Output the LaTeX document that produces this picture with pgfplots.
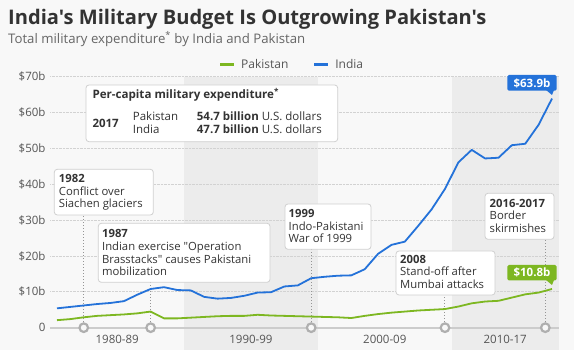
\documentclass[border=0pt]{standalone}
\usepackage{fontspec}
\setmainfont{Open Sans}[Ligatures=TeXOff]
\usepackage{pgfplots}
\usepackage{pgfplotstable}
\pgfplotsset{compat=1.18}
\definecolor{bg}{RGB}{248,248,248}
\definecolor{band}{RGB}{236,236,236}
\definecolor{ind}{RGB}{36,114,217}
\definecolor{pak}{RGB}{125,183,33}
\definecolor{txt}{RGB}{51,51,51}
\definecolor{sub}{RGB}{102,102,102}
\definecolor{tickc}{RGB}{85,85,85}
\definecolor{gridc}{RGB}{210,210,210}
\definecolor{ring}{RGB}{175,175,175}
\definecolor{zeroc}{RGB}{204,204,204}
\definecolor{boxb}{RGB}{208,208,208}

\pgfplotstableread{
year india pak
1980 5.4 2.1
1981 5.8 2.4
1982 6.2 2.9
1983 6.6 3.3
1984 6.9 3.5
1985 7.4 3.7
1986 9.2 4.0
1987 10.8 4.5
1988 11.3 2.6
1989 10.5 2.6
1990 10.4 2.8
1991 8.6 3.0
1992 8.1 3.2
1993 8.3 3.3
1994 8.9 3.3
1995 9.8 3.6
1996 9.9 3.4
1997 11.5 3.3
1998 11.8 3.2
1999 13.8 3.1
2000 14.2 3.0
2001 14.5 2.9
2002 14.6 2.7
2003 16.3 3.3
2004 20.6 3.8
2005 23.1 4.2
2006 24.0 4.5
2007 28.4 4.8
2008 33.0 5.0
2009 38.7 5.2
2010 46.1 5.9
2011 49.6 6.8
2012 47.2 7.3
2013 47.4 7.5
2014 50.9 8.4
2015 51.3 9.3
2016 56.6 9.8
2017 63.9 10.8
}\milex

\newcommand{\tl}[3]{\node[anchor=base west,inner sep=0pt,font=\fontsize{11.3}{13}\selectfont,text=txt] at (#1,-#2) {#3};}

\begin{document}
\begin{tikzpicture}[x=1pt,y=1pt]
\path[use as bounding box] (0,0) rectangle (574,-350);
\fill[bg] (0,0) rectangle (574,-350);
% decade bands
\fill[band] (184.1,-76.7) rectangle (317.9,-350);
\fill[band] (451.7,-76.7) rectangle (558.7,-350);
% title
\node[anchor=base west,inner sep=0pt,font=\fontsize{20.1}{23}\selectfont\bfseries,text=txt] at (8,-25) {India's Military Budget Is Outgrowing Pakistan's};
\node[anchor=base west,inner sep=0pt,font=\fontsize{13.2}{15}\selectfont,text=sub] at (8,-43.3) {Total military expenditure\textsuperscript{*} by India and Pakistan};

\begin{axis}[
  at={(50.3pt,-327.7pt)}, anchor=south west,
  scale only axis, width=508.4pt, height=251pt,
  xmin=1979.5, xmax=2017.5, ymin=0, ymax=70,
  clip=false,
  axis line style={draw=none}, tick style={draw=none}, major tick length=0pt,
  ytick={0,10,...,70},
  yticklabels={0,\$10b,\$20b,\$30b,\$40b,\$50b,\$60b,\$70b},
  xtick={1984.5,1994.5,2004.5,2013.5},
  xticklabels={1980-89,1990-99,2000-09,2010-17},
  yticklabel style={anchor=east, inner sep=0pt, xshift=-4.6pt, font=\fontsize{11.5}{13}\selectfont, text=tickc},
  xticklabel style={anchor=base, inner sep=0pt, yshift=-15.9pt, font=\fontsize{11.5}{13}\selectfont, text=tickc},
  ymajorgrids, grid style={gridc, densely dotted, line width=0.8pt},
  legend style={at={(rel axis cs:0.3305,1.049)}, anchor=west, draw=none, fill=none,
    inner sep=0pt, outer sep=0pt, font=\fontsize{12}{14}\selectfont, text=tickc,
    nodes={inner sep=0pt},
    /tikz/every odd column/.append style={column sep=5.4pt},
    /tikz/every even column/.append style={column sep=24pt}},
  legend columns=2,
  legend cell align=left,
  legend image code/.code={\draw[line width=3.5pt] (0pt,0pt) -- (14pt,0pt);},
]
\draw[zeroc, line width=2pt] (axis cs:1979.5,0) -- (axis cs:2017.5,0);
\draw[ring!85!black, dotted, line width=1pt] (axis cs:1982,0) -- (axis cs:1982,31.4);
\draw[ring!85!black, dotted, line width=1pt] (axis cs:1987,0) -- (axis cs:1987,12.7);
\draw[ring!85!black, dotted, line width=1pt] (axis cs:1999,0) -- (axis cs:1999,21.9);
\draw[ring!85!black, dotted, line width=1pt] (axis cs:2009,0) -- (axis cs:2009,9.1);
\draw[ring!85!black, dotted, line width=1pt] (axis cs:2016.5,0) -- (axis cs:2016.5,24.7);
\addplot[pak, line width=1.8pt, line join=round] table[x=year, y=pak] {\milex};
\addlegendentry{Pakistan}
\addplot[ind, line width=1.8pt, line join=round] table[x=year, y=india] {\milex};
\addlegendentry{India}
\addplot[only marks, mark=*, mark size=4.3pt, mark options={draw=ring, fill=bg, line width=2.2pt}, forget plot]
  coordinates {(1982,0) (1987,0) (1999,0) (2009,0) (2016.5,0)};
\end{axis}

% value tags
\fill[ind, rounded corners=1.5pt] (507.3,-75) rectangle (556.7,-90.7);
\fill[ind] (546,-90) -- (554,-90) -- (552,-95) -- cycle;
\node[font=\fontsize{11.5}{13}\selectfont\bfseries, text=white, inner sep=0pt] at (532,-83) {\$63.9b};
\fill[pak, rounded corners=1.5pt] (507.3,-265) rectangle (556.7,-280.5);
\fill[pak] (546,-280) -- (554,-280) -- (552,-285) -- cycle;
\node[font=\fontsize{11.5}{13}\selectfont\bfseries, text=white, inner sep=0pt] at (532,-272.7) {\$10.8b};

% per-capita box
\draw[boxb, fill=white, rounded corners=3pt, line width=0.8pt] (86,-85) rectangle (337.7,-141.7);
\node[anchor=base west,inner sep=0pt,font=\fontsize{11.6}{13}\selectfont\bfseries,text=txt] at (92.3,-99) {Per-capita military expenditure\textsuperscript{*}};
\node[anchor=base west,inner sep=0pt,font=\fontsize{11.5}{13}\selectfont\bfseries,text=txt] at (92.3,-127.3) {2017};
\node[anchor=base west,inner sep=0pt,font=\fontsize{11.5}{13}\selectfont,text=txt] at (132.7,-120.7) {Pakistan};
\node[anchor=base west,inner sep=0pt,font=\fontsize{11.5}{13}\selectfont,text=txt] at (132.7,-133.3) {India};
\node[anchor=base west,inner sep=0pt,font=\fontsize{11.5}{13}\selectfont,text=txt] at (196.7,-120.7) {\textbf{54.7 billion} U.S. dollars};
\node[anchor=base west,inner sep=0pt,font=\fontsize{11.5}{13}\selectfont,text=txt] at (196.7,-133.3) {\textbf{47.7 billion} U.S. dollars};

% 1982
\draw[boxb, fill=white, rounded corners=3pt, line width=0.8pt] (54.3,-169.3) rectangle (153.3,-215);
\tl{58.7}{182.5}{\textbf{1982}}
\tl{58.7}{195.2}{Conflict over}
\tl{58.7}{207.9}{Siachen glaciers}
% 1987
\draw[boxb, fill=white, rounded corners=3pt, line width=0.8pt] (98.3,-223.3) rectangle (270,-282.3);
\tl{101.9}{237.7}{\textbf{1987}}
\tl{101.9}{250.4}{Indian exercise "Operation}
\tl{101.9}{263.1}{Brasstacks" causes Pakistani}
\tl{101.9}{275.8}{mobilization}
% 1999
\draw[boxb, fill=white, rounded corners=3pt, line width=0.8pt] (285,-204) rectangle (371,-249.3);
\tl{288.5}{217.5}{\textbf{1999}}
\tl{288.5}{230.2}{Indo-Pakistani}
\tl{288.5}{242.9}{War of 1999}
% 2008
\draw[boxb, fill=white, rounded corners=3pt, line width=0.8pt] (396,-251) rectangle (495,-295);
\tl{400}{263.3}{\textbf{2008}}
\tl{400}{276}{Stand-off after}
\tl{400}{288.7}{Mumbai attacks}
% 2016-2017
\draw[boxb, fill=white, rounded corners=3pt, line width=0.8pt] (485,-193.3) rectangle (554,-239.3);
\tl{489.5}{207.3}{\textbf{2016-2017}}
\tl{489.5}{220}{Border}
\tl{489.5}{232.7}{skirmishes}
\end{tikzpicture}
\end{document}
